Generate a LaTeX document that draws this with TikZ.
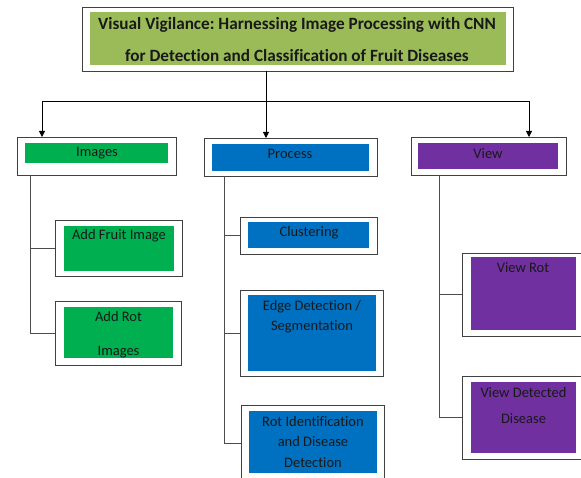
\documentclass[tikz,border=0pt]{standalone}
\usepackage{fontspec}
\setmainfont{Carlito}[Ligatures=NoCommon]
\frenchspacing
\usetikzlibrary{arrows.meta}
\definecolor{titlegreen}{HTML}{9BBB59}
\definecolor{imggreen}{HTML}{00B050}
\definecolor{procblue}{HTML}{0070C0}
\definecolor{viewpurple}{HTML}{7030A0}
\tikzset{
  outerbox/.style={draw=black!75, line width=0.9pt, fill=white, inner sep=0pt, outer sep=0pt},
  innerbox/.style={inner sep=0pt, outer sep=0pt, draw=none},
  lbl/.style={inner sep=0pt, align=center, text=black!90, font=\fontsize{14.5}{20}\selectfont},
  conn/.style={draw=black!70, line width=0.8pt},
  arr/.style={draw=black, line width=0.8pt, -{Triangle[length=6pt,width=6pt]}}
}
\begin{document}
\begin{tikzpicture}[x=1pt,y=-1pt]
\useasboundingbox (0,0) rectangle (581,478);
\clip (0,0) rectangle (581,478);
% title
\node[outerbox, minimum width=431pt, minimum height=64pt] (title) at (297.5,39) {};
\node[innerbox, fill=titlegreen, minimum width=416pt, minimum height=53pt] (titlein) at (298,38.5) {};
\node[lbl, font=\bfseries\fontsize{17.2}{32}\selectfont] (titletxt) at (297,40) {Visual Vigilance: Harnessing Image Processing with CNN\\for Detection and Classification of Fruit Diseases};
% level 1
\node[outerbox, minimum width=159pt, minimum height=38pt] (img) at (96.5,156) {};
\node[innerbox, fill=imggreen, minimum width=143pt, minimum height=20pt] (imgin) at (96.5,153) {};
\node[lbl] (imgtxt) at (97,153.5) {Images};
\node[outerbox, minimum width=173pt, minimum height=38pt] (proc) at (290.5,157) {};
\node[innerbox, fill=procblue, minimum width=157pt, minimum height=27pt] (procin) at (290.5,157.5) {};
\node[lbl] (proctxt) at (290,153.5) {Process};
\node[outerbox, minimum width=155pt, minimum height=38pt] (view) at (488.5,156) {};
\node[innerbox, fill=viewpurple, minimum width=140pt, minimum height=26pt] (viewin) at (488,156) {};
\node[lbl] (viewtxt) at (488,153.5) {View};
% top connectors
\coordinate (tj) at (266,101);
\coordinate (lj) at (42,101);
\coordinate (rj) at (529,101);
\draw[conn, draw=black] (title.south -| tj) -- (tj);
\draw[conn, draw=black] (lj) -- (rj);
\draw[arr] (lj) -- (lj |- img.north);
\draw[arr] (tj) -- (tj |- proc.north);
\draw[arr] (rj) -- (rj |- view.north);
% images children
\node[outerbox, minimum width=127pt, minimum height=56pt] (fruit) at (118.5,248) {};
\node[innerbox, fill=imggreen, minimum width=110pt, minimum height=45pt] (fruitin) at (119,248.5) {};
\node[lbl] (fruittxt) at (119,235.5) {Add Fruit Image};
\node[outerbox, minimum width=126pt, minimum height=64pt] (addrot) at (118,333) {};
\node[innerbox, fill=imggreen, minimum width=109pt, minimum height=51pt] (addrotin) at (118.5,332.5) {};
\node[lbl, font=\fontsize{14.5}{34}\selectfont] (addrottxt) at (118.5,334.5) {Add Rot\\Images};
\coordinate (iv) at (30,175);
\draw[conn] (iv |- img.south) -- (iv |- addrot.west) -- (addrot.west);
\draw[conn] (iv |- fruit.west) -- (fruit.west);
% process children
\node[outerbox, minimum width=137pt, minimum height=37pt] (clus) at (308.5,235.5) {};
\node[innerbox, fill=procblue, minimum width=121pt, minimum height=26pt] (clusin) at (308.5,235) {};
\node[lbl] (clustxt) at (309,232.5) {Clustering};
\node[outerbox, minimum width=143pt, minimum height=86pt] (edge) at (311.5,333) {};
\node[innerbox, fill=procblue, minimum width=128pt, minimum height=76pt] (edgein) at (312,333) {};
\node[lbl] (edgetxt) at (312,316.5) {Edge Detection /\\Segmentation};
\node[outerbox, minimum width=143pt, minimum height=76pt] (rot) at (312.5,443) {};
\node[innerbox, fill=procblue, minimum width=128pt, minimum height=62pt] (rotin) at (313,442) {};
\node[lbl, font=\fontsize{14.5}{20.5}\selectfont] (rottxt) at (313,442) {Rot Identification\\and Disease\\Detection};
\coordinate (pv) at (224,176);
\draw[conn] (pv |- proc.south) -- (pv |- rot.west) -- (rot.west);
\draw[conn] (pv |- clus.west) -- (clus.west);
\draw[conn] (pv |- edge.west) -- (edge.west);
% view children
\node[outerbox, minimum width=121pt, minimum height=83pt] (vrot) at (522.5,294.5) {};
\node[innerbox, fill=viewpurple, minimum width=105pt, minimum height=73pt] (vrotin) at (523.5,293.5) {};
\node[lbl] (vrottxt) at (523,267.5) {View Rot};
\node[outerbox, minimum width=121pt, minimum height=83pt] (vdet) at (522.5,417.5) {};
\node[innerbox, fill=viewpurple, minimum width=105pt, minimum height=71pt] (vdetin) at (523.5,417.5) {};
\node[lbl, font=\fontsize{14.5}{26}\selectfont] (vdettxt) at (523.5,405.5) {View Detected\\Disease};
\coordinate (vv) at (439,175);
\draw[conn] (vv |- view.south) -- (vv |- vdet.west) -- (vdet.west);
\draw[conn] (vv |- vrot.west) -- (vrot.west);
\end{tikzpicture}
\end{document}
